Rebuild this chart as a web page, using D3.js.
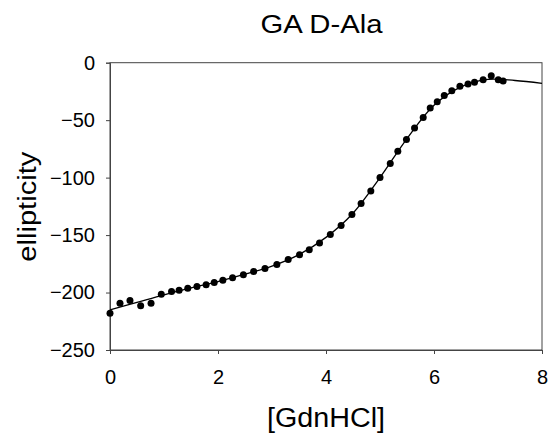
<!DOCTYPE html>
<html>
<head>
<meta charset="utf-8">
<script src="https://cdn.jsdelivr.net/npm/d3@7"></script>
<style>
  body { margin: 0; background: #fff; }
  text { font-family: "Liberation Sans", Arial, sans-serif; fill: #000; }
</style>
</head>
<body>
<script>
// measured points
var gdn = [0, 0.185, 0.37, 0.568, 0.76, 0.95, 1.14, 1.28, 1.44, 1.61, 1.78, 1.93, 2.09, 2.27, 2.47,
    2.66, 2.87, 3.09, 3.30, 3.51, 3.69, 3.88, 4.08, 4.28, 4.48, 4.65, 4.83, 5.0, 5.19, 5.33, 5.49,
    5.64, 5.80, 5.93, 6.06, 6.19, 6.33, 6.48, 6.63, 6.75, 6.91, 7.06, 7.19, 7.28];
var ellip = [-218, -209.3, -207, -211.6, -209.3, -201.5, -199.1, -198, -196.2, -194.7, -193.3, -191.3, -189.2, -187.2, -184.6,
    -181.7, -179, -175.6, -171.2, -167.1, -162.8, -157, -149.4, -141.6, -132.2, -122.6, -111.6, -100, -87.8, -77, -66.8,
    -56.9, -47.6, -39.5, -34, -28.5, -24.4, -20.6, -18.6, -17.1, -14.8, -11.3, -14.8, -16];

// fitted curve
var fitX = [0, 0.5, 1, 1.5, 2, 2.5, 3, 3.5, 4, 4.5, 5, 5.5, 6, 6.5, 7, 7.5, 8];
var fitY = [-215, -208.5, -202, -196, -190.5, -184, -177, -167, -152, -131, -100, -66, -37, -21, -14.5, -15.5, -18];

var xTicks = [0, 2, 4, 6, 8];
var yTicks = [0, -50, -100, -150, -200, -250];

var width = 554, height = 439;
var plotL = 110, plotR = 542, plotT = 62.7, plotB = 350;

var svg = d3.select("body").append("svg")
    .attr("width", width)
    .attr("height", height);

var x = d3.scaleLinear().domain([0, 8]).range([plotL, plotR]);
var y = d3.scaleLinear().domain([-250, 0]).range([plotB, plotT]);

// frame
svg.append("rect")
    .attr("x", plotL).attr("y", plotT)
    .attr("width", plotR - plotL).attr("height", plotB - plotT)
    .attr("fill", "none").attr("stroke", "#444").attr("stroke-width", 1);

var xAxis = svg.append("g")
    .attr("transform", "translate(0," + plotB + ")")
    .call(d3.axisBottom(x).tickValues(xTicks).tickSize(4).tickPadding(16).tickFormat(d3.format("d")));

var yAxis = svg.append("g")
    .attr("transform", "translate(" + plotL + ",0)")
    .call(d3.axisLeft(y).tickValues(yTicks).tickSize(4).tickPadding(11).tickFormat(d3.format("d")));

[xAxis, yAxis].forEach(function(g) {
    g.select(".domain").attr("stroke", "#444");
    g.selectAll(".tick line").attr("stroke", "#444");
    g.selectAll(".tick text")
        .attr("font-family", "Liberation Sans, Arial, sans-serif")
        .attr("font-size", 20)
        .attr("fill", "#000");
});

// fit line
var fit = fitX.map(function(d, i) { return [d, fitY[i]]; });
svg.append("path")
    .datum(fit)
    .attr("fill", "none")
    .attr("stroke", "#000")
    .attr("stroke-width", 1.3)
    .attr("d", d3.line()
        .x(function(d) { return x(d[0]); })
        .y(function(d) { return y(d[1]); })
        .curve(d3.curveCatmullRom));

// data points
svg.selectAll(".dot")
    .data(gdn)
    .enter().append("circle")
    .attr("class", "dot")
    .attr("cx", function(d) { return x(d); })
    .attr("cy", function(d, i) { return y(ellip[i]); })
    .attr("r", 3.5)
    .attr("fill", "#000");

// titles
svg.append("text")
    .attr("x", 321.5).attr("y", 33)
    .attr("text-anchor", "middle")
    .attr("font-size", 26)
    .attr("textLength", 122).attr("lengthAdjust", "spacingAndGlyphs")
    .text("GA D-Ala");

svg.append("text")
    .attr("x", 326).attr("y", 427)
    .attr("text-anchor", "middle")
    .attr("font-size", 27)
    .attr("textLength", 118).attr("lengthAdjust", "spacingAndGlyphs")
    .text("[GdnHCl]");

svg.append("text")
    .attr("transform", "translate(36,206.7) rotate(-90)")
    .attr("text-anchor", "middle")
    .attr("font-size", 26)
    .attr("textLength", 110).attr("lengthAdjust", "spacingAndGlyphs")
    .text("ellipticity");
</script>
</body>
</html>
